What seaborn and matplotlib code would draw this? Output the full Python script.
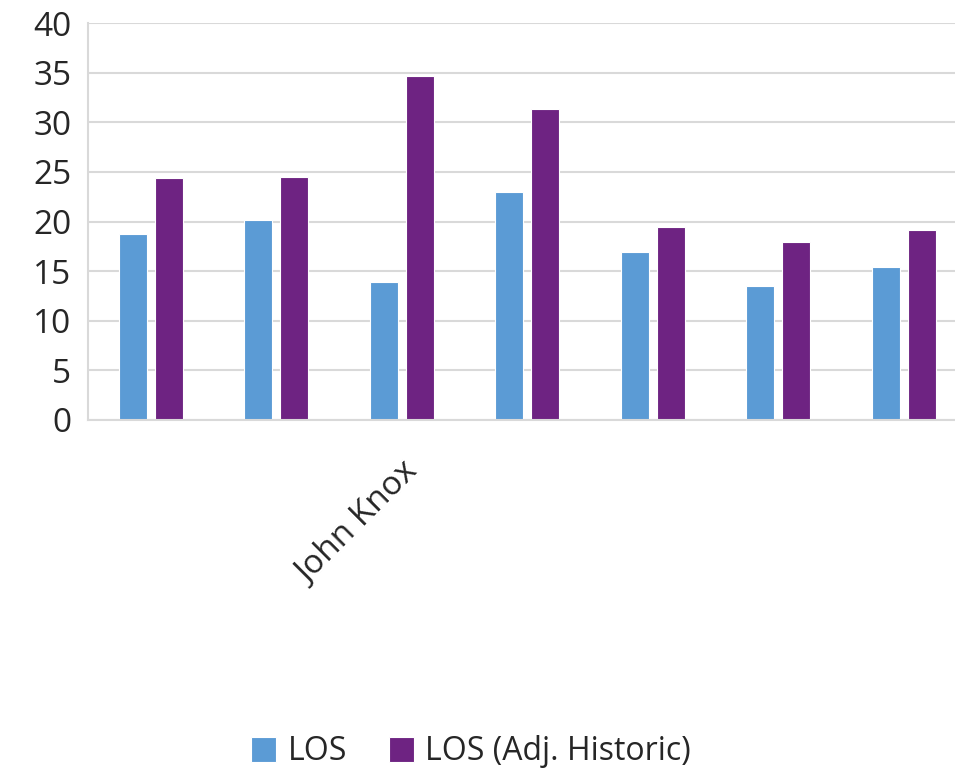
import pandas as pd
import matplotlib
matplotlib.use("Agg")
import matplotlib.pyplot as plt
import seaborn as sns

# Data
groups = ["g1", "g2", "g3", "g4", "g5", "g6", "g7"]
tick_labels = ["", "", "John Knox", "", "", "", ""]
los = [18.7, 20.2, 13.9, 23.0, 16.95, 13.55, 15.4]
los_adj = [24.4, 24.45, 34.7, 31.3, 19.4, 17.95, 19.15]
series_names = ["LOS", "LOS (Adj. Historic)"]
colors = ["#5B9BD5", "#6E2382"]

df = pd.DataFrame({"group": groups, series_names[0]: los, series_names[1]: los_adj})
df_long = df.melt(id_vars="group", var_name="series", value_name="value")

sns.set_theme(style="white")
plt.rcParams["font.family"] = ["Open Sans", "DejaVu Sans"]

fig = plt.figure(figsize=(9.55, 7.74), dpi=100)
ax = fig.add_axes([88 / 955, 1 - 420 / 774, 878.5 / 955, 397 / 774])

sns.barplot(data=df_long, x="group", y="value", hue="series", order=groups,
            hue_order=series_names, palette=colors, saturation=1, width=0.574, gap=0.22,
            edgecolor="white", linewidth=0.8, ax=ax)

ax.set_ylim(0, 40)
ax.set_xlim(-0.5, 6.5)
ax.set_yticks(range(0, 41, 5))
ax.yaxis.grid(True, color="#D9D9D9", linewidth=1.5)
ax.set_axisbelow(True)
for side in ["top", "right"]:
    ax.spines[side].set_visible(False)
for side in ["left", "bottom"]:
    ax.spines[side].set_color("#D9D9D9")
    ax.spines[side].set_linewidth(1.5)
ax.set_xlabel("")
ax.set_ylabel("")
ax.tick_params(axis="both", length=0, labelsize=24, labelcolor="#262626")
ax.tick_params(axis="y", pad=12)
ax.set_xticks(range(len(groups)))
ax.set_xticklabels(tick_labels, rotation=45, ha="right", rotation_mode="anchor")
ax.tick_params(axis="x", pad=26)

handles, labels = ax.get_legend_handles_labels()
ax.get_legend().remove()
fig.legend(handles, labels, loc="center", bbox_to_anchor=(471 / 955, 1 - 752 / 774),
           ncol=2, frameon=False, fontsize=23, handlelength=0.8, handleheight=0.8,
           handletextpad=0.35, columnspacing=1.3, labelcolor="#262626")

fig.savefig("out.png", dpi=100)
